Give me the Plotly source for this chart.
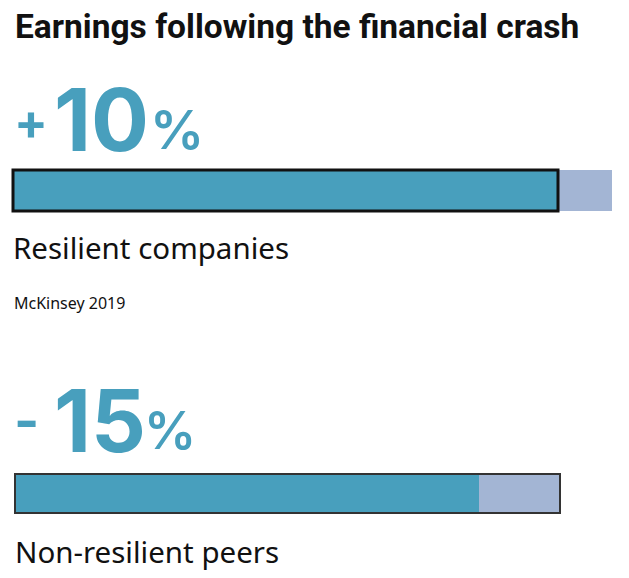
import plotly.graph_objects as go

# ---- data ----
categories = ["Resilient companies", "Non-resilient peers"]
change_values = ["10", "15"]
change_signs = ["+", "-"]
bar_start = [13, 15]          # left edge of each bar (chart units)
teal_len = [545, 464]         # filled part
rest_len = [54, 81]           # remaining part
bar_center = [190.5, 493.5]
bar_thickness = [41, 39]
source_text = "McKinsey 2019"
title_text = "Earnings following the financial crash"

TEAL = "#489FBD"
LIGHT = "#A3B5D4"

fig = go.Figure()
fig.add_trace(go.Bar(
    y=bar_center, x=teal_len, base=bar_start, width=bar_thickness,
    orientation="h", marker=dict(color=TEAL, line=dict(width=0)),
    hoverinfo="skip", showlegend=False))
fig.add_trace(go.Bar(
    y=bar_center, x=rest_len, base=[s + t for s, t in zip(bar_start, teal_len)],
    width=bar_thickness, orientation="h",
    marker=dict(color=LIGHT, line=dict(width=0)),
    hoverinfo="skip", showlegend=False))
# outlines: first bar outlined around filled part, second around whole bar
fig.add_trace(go.Bar(
    y=bar_center, x=[teal_len[0], teal_len[1] + rest_len[1]], base=bar_start,
    width=bar_thickness, orientation="h",
    marker=dict(color="rgba(0,0,0,0)",
                line=dict(color=["#111111", "#333333"], width=[3, 2])),
    hoverinfo="skip", showlegend=False))

ann = []
ann.append(dict(x=13, y=26, text=f"<b>{title_text}</b>", xanchor="left", yanchor="middle",
                font=dict(family="Roboto", size=33.5, color="#111111")))
# big numbers
ann.append(dict(x=12, y=122, text="<b>" + change_signs[0] + "</b>", xanchor="left", yanchor="middle",
                font=dict(family="Inter", size=50, color=TEAL)))
ann.append(dict(x=52, y=120, text="<b>" + change_values[0] + "</b>", xanchor="left", yanchor="middle",
                font=dict(family="Inter", size=86, color=TEAL)))
ann.append(dict(x=148, y=129, text="%", xanchor="left", yanchor="middle",
                font=dict(family="Inter", size=54, color=TEAL, weight=600)))

ann.append(dict(x=12, y=420, text="<b>" + change_signs[1] + "</b>", xanchor="left", yanchor="middle",
                font=dict(family="Inter", size=54, color=TEAL)))
ann.append(dict(x=52, y=421, text="<b>" + change_values[1] + "</b>", xanchor="left", yanchor="middle",
                font=dict(family="Inter", size=86, color=TEAL)))
ann.append(dict(x=142, y=430, text="%", xanchor="left", yanchor="middle",
                font=dict(family="Inter", size=52, color=TEAL, weight=600)))

ann.append(dict(x=11, y=247, text=categories[0], xanchor="left", yanchor="middle",
                font=dict(family="Noto Sans", size=29.5, color="#111111")))
ann.append(dict(x=12, y=303, text=source_text, xanchor="left", yanchor="middle",
                font=dict(family="Noto Sans", size=16, color="#111111")))
ann.append(dict(x=13, y=551, text=categories[1], xanchor="left", yanchor="middle",
                font=dict(family="Noto Sans", size=29.5, color="#111111")))

for a in ann:
    a.update(xref="x", yref="y", showarrow=False)

fig.update_layout(
    width=629, height=578, autosize=False,
    margin=dict(l=0, r=0, t=0, b=0),
    paper_bgcolor="white", plot_bgcolor="white",
    barmode="overlay",
    xaxis=dict(range=[0, 629], visible=False, fixedrange=True),
    yaxis=dict(range=[578, 0], visible=False, fixedrange=True),
    annotations=ann,
)
fig.write_html("out.html")
